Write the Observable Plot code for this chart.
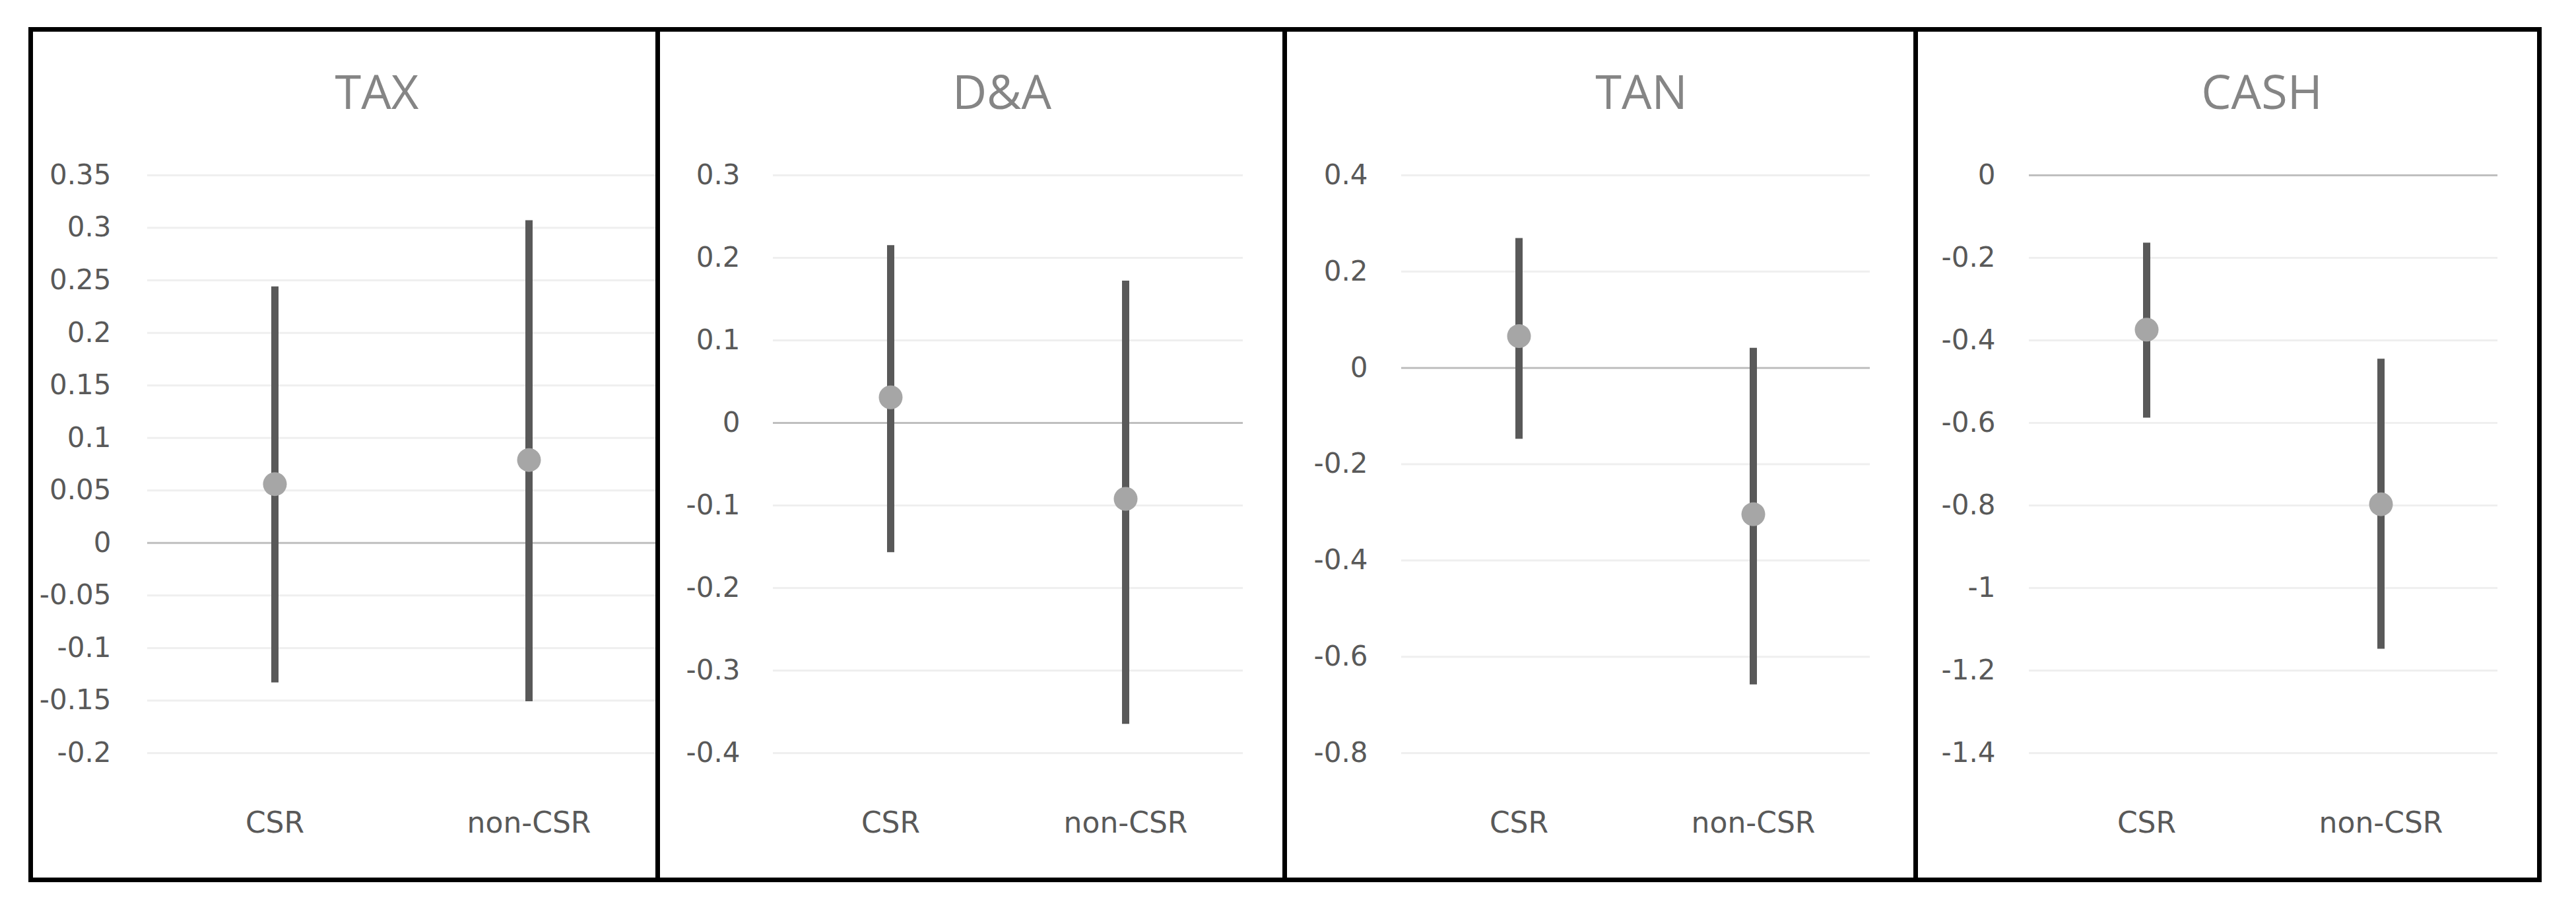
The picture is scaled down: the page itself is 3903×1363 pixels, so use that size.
<!DOCTYPE html>
<html>
<head>
<meta charset="utf-8">
<script src="https://cdn.jsdelivr.net/npm/d3@7"></script>
<script src="https://cdn.jsdelivr.net/npm/@observablehq/plot@0.6"></script>
<style>
  html, body { margin: 0; padding: 0; background: #ffffff; }
  #wrap { position: relative; width: 3903px; height: 1363px; overflow: hidden; background: #fff; }
  .panel-svg { position: absolute; }
  .title { position: absolute; font-family: "Open Sans", sans-serif; font-size: 72px; line-height: 1; color: #858585; text-align: center; white-space: nowrap; }
  .border { position: absolute; background: #000; z-index: 5; }
</style>
</head>
<body>
<div id="wrap"></div>
<script>
// ---- data ----
const groups = ["CSR", "non-CSR"];
const panelNames = ["TAX", "D&A", "TAN", "CASH"];

const taxMid = [0.056, 0.079];
const taxLo  = [-0.133, -0.151];
const taxHi  = [0.244, 0.307];
const taxTicks = [0.35, 0.3, 0.25, 0.2, 0.15, 0.1, 0.05, 0, -0.05, -0.1, -0.15, -0.2];

const daMid = [0.031, -0.092];
const daLo  = [-0.157, -0.365];
const daHi  = [0.215, 0.172];
const daTicks = [0.3, 0.2, 0.1, 0, -0.1, -0.2, -0.3, -0.4];

const tanMid = [0.066, -0.304];
const tanLo  = [-0.148, -0.658];
const tanHi  = [0.269, 0.041];
const tanTicks = [0.4, 0.2, 0, -0.2, -0.4, -0.6, -0.8];

const cashMid = [-0.374, -0.797];
const cashLo  = [-0.588, -1.148];
const cashHi  = [-0.164, -0.445];
const cashTicks = [0, -0.2, -0.4, -0.6, -0.8, -1, -1.2, -1.4];

// ---- layout ----
const panels = [
  {name: panelNames[0], mid: taxMid, lo: taxLo, hi: taxHi, ticks: taxTicks, innerLeft: 50, plotLeft: 223, plotRight: 993, pad: 55, titleX: 571},
  {name: panelNames[1], mid: daMid, lo: daLo, hi: daHi, ticks: daTicks, innerLeft: 1000, plotLeft: 1171, plotRight: 1883, pad: 50, titleX: 1518},
  {name: panelNames[2], mid: tanMid, lo: tanLo, hi: tanHi, ticks: tanTicks, innerLeft: 1950, plotLeft: 2123, plotRight: 2833, pad: 51, titleX: 2487},
  {name: panelNames[3], mid: cashMid, lo: cashLo, hi: cashHi, ticks: cashTicks, innerLeft: 2906, plotLeft: 3074, plotRight: 3784, pad: 51, titleX: 3427}
];

const wrap = document.getElementById("wrap");
const svgTop = 48, svgHeight = 1281, gridTop = 265, gridBottom = 1140;

panels.forEach(p => {
  const data = groups.map((g, i) => ({group: g, mid: p.mid[i], lo: p.lo[i], hi: p.hi[i]}));
  const marginLeft = p.plotLeft - p.innerLeft;
  const width = p.plotRight - p.innerLeft;
  const chart = Plot.plot({
    width,
    height: svgHeight,
    marginLeft,
    marginRight: 0,
    marginTop: gridTop - svgTop,
    marginBottom: svgTop + svgHeight - gridBottom,
    style: {background: "transparent", fontFamily: "DejaVu Sans", color: "#595959", overflow: "visible", maxWidth: "none"},
    x: {type: "point", domain: groups, padding: 0.5, axis: null},
    y: {domain: [d3.min(p.ticks), d3.max(p.ticks)], axis: null},
    marks: [
      Plot.ruleY(p.ticks.filter(t => t !== 0), {stroke: "#efefef", strokeWidth: 3}),
      Plot.ruleY([0], {stroke: "#bfbfbf", strokeWidth: 3}),
      Plot.axisY({ticks: p.ticks, tickSize: 0, tickPadding: p.pad, tickFormat: d => String(d), fontSize: 42, fill: "#595959", label: null}),
      Plot.axisX({tickSize: 0, tickPadding: 89, fontSize: 44, fill: "#595959", label: null}),
      Plot.ruleX(data, {x: "group", y1: "lo", y2: "hi", stroke: "#595959", strokeWidth: 11}),
      Plot.dot(data, {x: "group", y: "mid", r: 18, fill: "#a6a6a6"})
    ]
  });
  chart.classList.add("panel-svg");
  chart.style.left = p.innerLeft + "px";
  chart.style.top = svgTop + "px";
  wrap.appendChild(chart);

  const t = document.createElement("div");
  t.className = "title";
  t.textContent = p.name;
  t.style.left = (p.titleX - 300) + "px";
  t.style.width = "600px";
  t.style.top = "101px";
  wrap.appendChild(t);
});

// ---- borders ----
const borders = [
  [43, 41, 3808, 7],   // top
  [43, 1329, 3808, 7], // bottom
  [43, 41, 7, 1295],   // left
  [3844, 41, 7, 1295], // right
  [993, 41, 7, 1295],
  [1943, 41, 7, 1295],
  [2899, 41, 7, 1295]
];
borders.forEach(([l, t, w, h]) => {
  const b = document.createElement("div");
  b.className = "border";
  b.style.left = l + "px"; b.style.top = t + "px";
  b.style.width = w + "px"; b.style.height = h + "px";
  wrap.appendChild(b);
});
</script>
</body>
</html>
